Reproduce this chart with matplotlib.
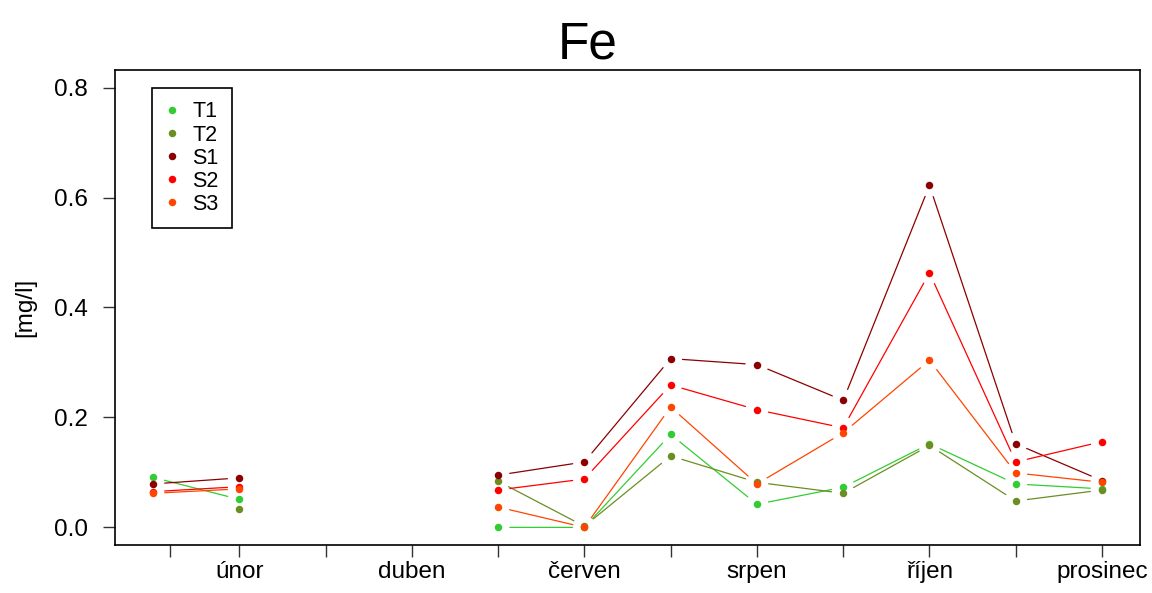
import numpy as np
import matplotlib
matplotlib.use("Agg")
import matplotlib.pyplot as plt
from matplotlib.lines import Line2D

plt.rcParams['font.family'] = ['Liberation Sans', 'DejaVu Sans']

# mesice 1..12, NaN = bez mereni
mesice = np.arange(1, 13)
popisky = ['', 'únor', '', 'duben', '', 'červen', '', 'srpen', '', 'říjen', '', 'prosinec']

nan = np.nan
T1 = [0.091, 0.051, nan, nan, 0.000, 0.000, 0.169, 0.042, 0.073, 0.152, 0.079, 0.070]
T2 = [nan, 0.033, nan, nan, 0.084, 0.002, 0.130, 0.082, 0.062, 0.149, 0.048, 0.068]
S1 = [0.079, 0.090, nan, nan, 0.095, 0.119, 0.307, 0.296, 0.231, 0.622, 0.152, 0.085]
S2 = [0.065, 0.074, nan, nan, 0.068, 0.088, 0.259, 0.214, 0.181, 0.463, 0.119, 0.156]
S3 = [0.062, 0.070, nan, nan, 0.037, 0.000, 0.219, 0.079, 0.172, 0.304, 0.099, 0.082]

serie = {'T1': T1, 'T2': T2, 'S1': S1, 'S2': S2, 'S3': S3}
cores = {'T1': '#32CD32', 'T2': '#6B8E23', 'S1': '#8B0000', 'S2': '#FF0000', 'S3': '#FF4500'}

fig = plt.figure(figsize=(11.52, 5.93), dpi=100)
ax = fig.add_axes([0.0998, 0.081, 0.8898, 0.801])

for nome, valores in serie.items():
    y = np.array(valores, dtype=float)
    c = cores[nome]
    # type="b": usecky s mezerou kolem bodu
    for i in range(len(y) - 1):
        if np.isnan(y[i]) or np.isnan(y[i + 1]):
            continue
        ax.annotate('', xy=(mesice[i + 1], y[i + 1]), xytext=(mesice[i], y[i]),
                    arrowprops=dict(arrowstyle='-', color=c, lw=0.9,
                                    shrinkA=8.5, shrinkB=8.5))
    ax.plot(mesice, y, linestyle='none', marker='o', markersize=5.4,
            color=c, markeredgewidth=0)

ax.set_xlim(0.56, 12.44)
ax.set_ylim(-0.032, 0.832)

ax.set_xticks([1.2] + list(mesice[1:]))
ax.set_xticklabels([''] + popisky[1:])
ax.set_yticks([0.0, 0.2, 0.4, 0.6, 0.8])
ax.set_yticklabels(['0.0', '0.2', '0.4', '0.6', '0.8'])

ax.tick_params(axis='x', length=8.5, width=1, labelsize=17.5, pad=3, color='#333333')
ax.tick_params(axis='y', length=8.5, width=1, labelsize=17.5, pad=11, color='#333333')
for s in ax.spines.values():
    s.set_linewidth(1.2)
    s.set_color('black')

ax.set_ylabel('[mg/l]', fontsize=17.5, labelpad=13)
ax.set_title('Fe', fontsize=37, pad=8, x=0.461)

handles = [Line2D([], [], linestyle='none', marker='o', markersize=5.4,
                  color=cores[n], markeredgewidth=0) for n in serie]
leg = ax.legend(handles, list(serie.keys()), loc='upper left',
                bbox_to_anchor=(0.036, 0.962), fontsize=15.5,
                frameon=True, fancybox=False, framealpha=1,
                edgecolor='black', handlelength=0.6, handletextpad=0.65,
                labelspacing=0.1, borderpad=0.62, borderaxespad=0)
leg.get_frame().set_linewidth(1.2)

fig.savefig('out.png', dpi=100)
